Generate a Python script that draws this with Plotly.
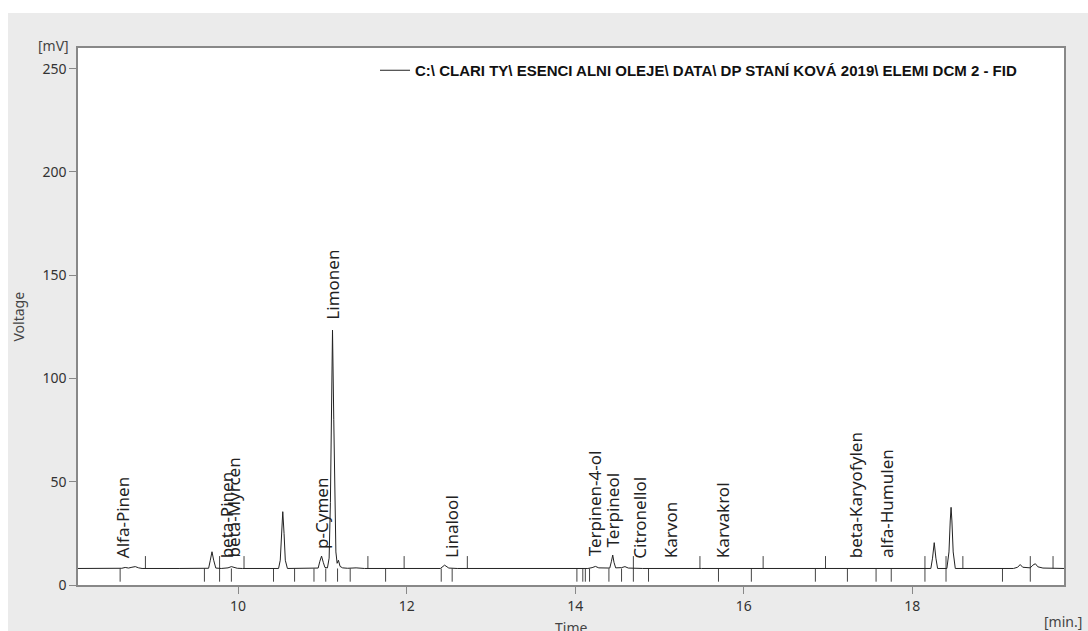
import numpy as np
import plotly.graph_objects as go

# ---- chromatogram trace (time [min], voltage [mV]) ----
time_min = [8.10, 8.55, 8.62, 8.66, 8.70, 8.74, 8.78, 8.82, 8.86, 9.30, 9.60,
            9.65, 9.67, 9.69, 9.71, 9.735, 9.80, 9.88, 9.92, 9.95, 9.99, 10.05,
            10.40, 10.48, 10.50, 10.515, 10.53, 10.545, 10.56, 10.585, 10.70,
            10.90, 10.95, 10.97, 10.99, 11.01, 11.03, 11.06, 11.08, 11.095,
            11.105, 11.12, 11.135, 11.145, 11.16, 11.175, 11.19, 11.21, 11.24,
            11.30, 11.40, 11.50, 11.80, 11.95, 12.40, 12.45, 12.50, 12.60,
            13.50, 14.15, 14.20, 14.24, 14.28, 14.41, 14.43, 14.445, 14.46,
            14.48, 14.55, 14.59, 14.63, 14.80, 15.50, 16.50, 17.00, 18.10,
            18.22, 18.24, 18.26, 18.28, 18.30, 18.41, 18.435, 18.45, 18.46,
            18.47, 18.485, 18.51, 18.60, 18.90, 19.20, 19.25, 19.28, 19.31,
            19.40, 19.43, 19.46, 19.49, 19.55, 19.80]
voltage_mv = [8.0, 8.0, 8.1, 8.5, 8.2, 8.6, 8.9, 8.3, 8.0, 8.0, 8.0,
              8.1, 12.0, 16.1, 12.0, 8.2, 8.0, 8.3, 8.9, 8.4, 8.1, 8.0,
              8.0, 8.0, 12.0, 25.0, 35.5, 25.0, 12.0, 8.0, 8.0,
              8.0, 8.2, 11.5, 14.0, 11.0, 8.5, 8.3, 13.0, 40.0,
              80.0, 123.4, 80.0, 42.0, 16.0, 10.5, 12.0, 9.0, 8.3,
              8.1, 8.3, 8.0, 8.0, 8.0, 8.0, 9.6, 8.2, 8.0,
              8.0, 8.0, 8.4, 9.0, 8.3, 8.2, 11.5, 14.5, 11.0,
              8.3, 8.4, 8.9, 8.2, 8.0, 8.0, 8.0, 8.0, 8.0,
              8.0, 13.0, 20.5, 13.0, 8.0, 8.0, 16.0, 31.0, 37.6,
              31.0, 16.0, 8.0, 8.0, 8.0, 8.0, 8.6, 9.9, 8.6,
              8.3, 9.6, 10.3, 8.8, 8.2, 8.0]

# ---- integration markers (time [min], direction: 1 up, -1 down, 0 both) ----
marker_time = [8.60, 8.90, 9.60, 9.78, 9.92, 10.07, 10.42, 10.67, 10.90, 11.04,
               11.18, 11.33, 11.54, 11.75, 11.97, 12.41, 12.54, 12.72,
               14.02, 14.09, 14.12, 14.17, 14.40, 14.55, 14.69, 14.87, 15.48,
               15.70, 16.09, 16.23, 16.85, 16.97, 17.23, 17.57, 17.75, 18.15,
               18.40, 18.60, 19.07, 19.40, 19.67]
marker_dir = [-1, 1, -1, 0, -1, 1, -1, -1, -1, -1,
              -1, -1, 1, -1, 1, -1, -1, 1,
              -1, -1, -1, -1, -1, -1, 0, -1, 1,
              -1, -1, 1, -1, 1, -1, -1, -1, 0,
              0, 1, -1, 0, 1]

# ---- peak names and their retention times ----
peak_names = ["Alfa-Pinen", "beta-Pinen", "beta-Myrcen", "p-Cymen", "Limonen",
              "Linalool", "Terpinen-4-ol", "Terpineol", "Citronellol", "Karvon",
              "Karvakrol", "beta-Karyofylen", "alfa-Humulen"]
peak_times = [8.63, 9.86, 9.95, 10.98, 11.12, 12.54, 14.23, 14.44, 14.76, 15.14,
              15.75, 17.33, 17.70]

x_ticks = [10, 12, 14, 16, 18]
y_ticks = [0, 50, 100, 150, 200, 250]
series_name = "C:\\ CLARI TY\\ ESENCI ALNI OLEJE\\ DATA\\ DP STANÍ KOVÁ 2019\\ ELEMI DCM 2 - FID"

BASE = 8.0
FONT = "Noto Sans"

# build marker segments
mx, my = [], []
for t, d in zip(marker_time, marker_dir):
    lo = BASE - 6.4 if d <= 0 else BASE
    hi = BASE + 6.0 if d >= 0 else BASE
    mx += [t, t, None]
    my += [lo, hi, None]

fig = go.Figure()
fig.add_trace(go.Scatter(x=mx, y=my, mode="lines", line=dict(color="#444", width=1),
                         showlegend=False, hoverinfo="skip"))
fig.add_trace(go.Scatter(x=time_min, y=voltage_mv, mode="lines", name=series_name,
                         line=dict(color="#222", width=1)))

# peak labels
for name, t in zip(peak_names, peak_times):
    yv = float(np.interp(t, time_min, voltage_mv))
    fig.add_annotation(x=t, y=yv, text=name, textangle=-90, showarrow=False,
                       xanchor="center", yanchor="bottom", yshift=8,
                       font=dict(family=FONT, size=17, color="#222"))

W, H = 1088, 631
L, R, T, B = 78, 24, 48, 46
pw, ph = W - L - R, H - T - B

def px(xp):
    return (xp - L) / pw

def py(yp):
    return (H - B - yp) / ph

# white strips outside the grey panel (top and left)
fig.add_shape(type="rect", xref="paper", yref="paper", x0=px(-20), x1=px(1110),
              y0=py(13), y1=py(-20), fillcolor="white", line=dict(width=0),
              layer="below")
fig.add_shape(type="rect", xref="paper", yref="paper", x0=px(-20), x1=px(8),
              y0=py(660), y1=py(-20), fillcolor="white", line=dict(width=0),
              layer="below")

txt = dict(family=FONT, size=14, color="#444")
fig.add_annotation(xref="paper", yref="paper", x=px(18), y=0.5, text="Voltage",
                   textangle=-90, showarrow=False, xanchor="center", yanchor="middle",
                   font=txt)
fig.add_annotation(xref="paper", yref="paper", x=0.5, y=py(627), text="Time",
                   showarrow=False, xanchor="center", yanchor="middle", font=txt)
fig.add_annotation(xref="paper", yref="paper", x=px(53), y=py(46), text="[mV]",
                   showarrow=False, xanchor="center", yanchor="middle", font=txt)
fig.add_annotation(xref="paper", yref="paper", x=px(1063), y=py(621), text="[min.]",
                   showarrow=False, xanchor="center", yanchor="middle", font=txt)

axis_common = dict(showline=True, linecolor="#888", linewidth=1.5, mirror=True,
                   ticks="outside", ticklen=7, tickcolor="#888", tickwidth=1,
                   showgrid=False, zeroline=False,
                   tickfont=dict(family=FONT, size=14, color="#333"))
fig.update_xaxes(range=[8.10, 19.80], tickvals=x_ticks, **axis_common)
fig.update_yaxes(range=[0, 260], tickvals=y_ticks, **axis_common)

fig.update_layout(
    width=W, height=H, autosize=False,
    margin=dict(l=L, r=R, t=T, b=B),
    paper_bgcolor="#ebebeb", plot_bgcolor="white",
    showlegend=True,
    legend=dict(x=px(375), y=py(54), xanchor="left", yanchor="top",
                bgcolor="rgba(0,0,0,0)",
                font=dict(family="Liberation Sans Narrow, Arial Narrow, sans-serif",
                          size=15, color="#111", weight="bold")),
)

fig.write_html("out.html")
